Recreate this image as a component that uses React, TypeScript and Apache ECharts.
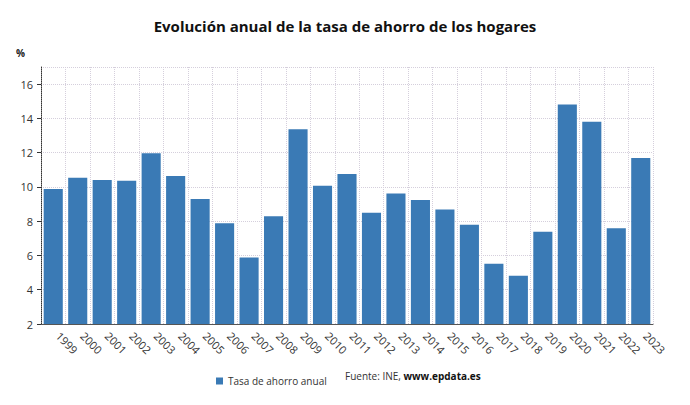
import React, { useEffect, useRef } from "react";
import * as echarts from "echarts";

const years = ["1999","2000","2001","2002","2003","2004","2005","2006","2007","2008","2009","2010","2011","2012","2013","2014","2015","2016","2017","2018","2019","2020","2021","2022","2023"];
const savingsRate = [9.88,10.54,10.4,10.36,11.96,10.64,9.3,7.88,5.88,8.29,13.37,10.07,10.75,8.5,9.61,9.24,8.68,7.8,5.51,4.81,7.38,14.81,13.8,7.59,11.69];
const yTicks = { min: 2, max: 17, interval: 2 };

export default function App() {
  const ref = useRef<HTMLDivElement>(null);
  useEffect(() => {
    const chart = echarts.init(ref.current!, null, { renderer: "svg" });
    chart.setOption({
      animation: false,
      textStyle: { fontFamily: "Open Sans" },
      title: {
        text: "Evolución anual de la tasa de ahorro de los hogares",
        left: "center",
        top: 13,
        textStyle: { fontFamily: "Open Sans", fontWeight: "bold", fontSize: 15, color: "#111" },
      },
      graphic: [
        { type: "text", left: 16, top: 48, style: { text: "%", font: "bold 10px 'Open Sans'", fill: "#222" } },
        {
          type: "text",
          left: 345,
          top: 371,
          style: {
            text: "{a|Fuente: INE, }{b|www.epdata.es}",
            rich: {
              a: { fontFamily: "Open Sans", fontSize: 10, fill: "#333", color: "#333" },
              b: { fontFamily: "Open Sans", fontSize: 10, fontWeight: "bold", fill: "#111", color: "#111" },
            },
          },
        },
      ],
      legend: {
        left: 211,
        top: 371,
        itemWidth: 7,
        itemHeight: 7,
        itemGap: 5,
        icon: "rect",
        textStyle: { fontFamily: "Open Sans", fontSize: 10, color: "#333" },
        data: ["Tasa de ahorro anual"],
      },
      grid: { left: 41, right: 37, top: 67, bottom: 81, containLabel: false },
      xAxis: {
        type: "category",
        data: years,
        axisLine: { lineStyle: { color: "#555", width: 1 } },
        axisTick: { alignWithLabel: true, length: 4, lineStyle: { color: "#555" } },
        axisLabel: { rotate: -45, color: "#333", fontSize: 11, margin: 5, interval: 0, align: "left", verticalAlign: "middle", padding: [0, 0, 0, 7] },
        splitLine: { show: true, lineStyle: { color: "#d5cfdc", type: "dotted" } },
      },
      yAxis: {
        type: "value",
        min: yTicks.min,
        max: yTicks.max,
        interval: yTicks.interval,
        axisLine: { show: true, lineStyle: { color: "#333", type: "dotted" } },
        axisTick: { show: true, length: 4, lineStyle: { color: "#333" } },
        axisLabel: { color: "#333", fontSize: 11, margin: 8, showMaxLabel: false },
        splitLine: { show: true, lineStyle: { color: "#d5cfdc", type: "dotted" } },
      },
      series: [
        {
          name: "Tasa de ahorro anual",
          type: "bar",
          data: savingsRate,
          barCategoryGap: "22%",
          itemStyle: { color: "#3a7ab5" },
        },
      ],
    });
    return () => chart.dispose();
  }, []);
  return <div ref={ref} style={{ width: 690, height: 405, position: "absolute", left: 0, top: 0 }} />;
}
